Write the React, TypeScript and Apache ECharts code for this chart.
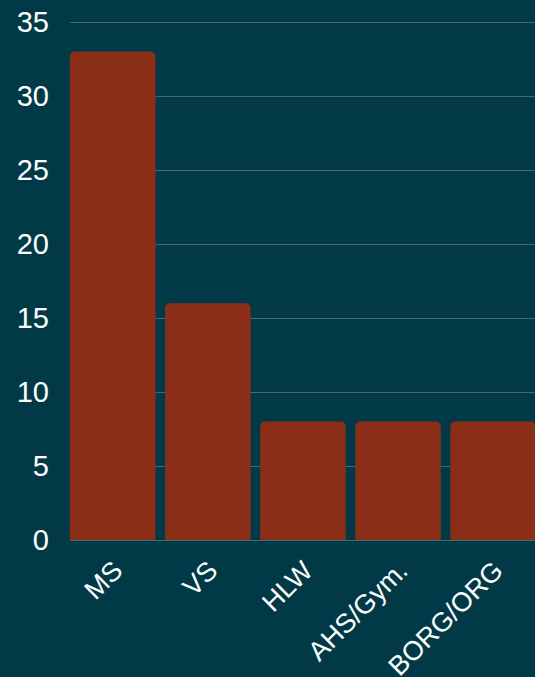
import React, { useEffect, useRef } from "react";
import * as echarts from "echarts";

const categories = ["MS", "VS", "HLW", "AHS/Gym.", "BORG/ORG"];
const values = [33, 16, 8, 8, 8];
const yMin = 0;
const yMax = 35;
const yInterval = 5;

const W = 548;

export default function App() {
  const ref = useRef<HTMLDivElement>(null);
  useEffect(() => {
    if (!ref.current) return;
    const chart = echarts.init(ref.current, null, { renderer: "svg" });
    const font = "'Liberation Sans', Arial, Helvetica, sans-serif";
    chart.setOption({
      animation: false,
      backgroundColor: "#013a46",
      grid: [
        { left: 70, right: W - 535, top: 22, bottom: 137, outerBoundsMode: "none" },
        { left: 65.2, right: W - 540.7, top: 22, bottom: 137, outerBoundsMode: "none" },
        { left: 70.2, right: W - 545.7, top: 22, bottom: 137, outerBoundsMode: "none" },
      ],
      xAxis: [
        { type: "category", gridIndex: 0, data: categories, show: false },
        { type: "category", gridIndex: 1, data: categories, show: false },
        {
          type: "category",
          gridIndex: 2,
          data: categories,
          axisLine: { show: false },
          axisTick: { show: false },
          axisLabel: {
            rotate: 45,
            color: "#ffffff",
            fontSize: 27,
            fontFamily: font,
            margin: 26,
            interval: 0,
          },
        },
      ],
      yAxis: [
        {
          type: "value",
          gridIndex: 0,
          min: yMin,
          max: yMax,
          interval: yInterval,
          axisLine: { show: false },
          axisTick: { show: false },
          axisLabel: {
            color: "#ffffff",
            fontSize: 29,
            fontFamily: font,
            margin: 21,
          },
          splitLine: { lineStyle: { color: "#3f6b74", width: 1 } },
        },
        {
          type: "value",
          gridIndex: 1,
          min: yMin,
          max: yMax,
          interval: yInterval,
          show: false,
          splitLine: { show: false },
        },
        {
          type: "value",
          gridIndex: 2,
          min: yMin,
          max: yMax,
          interval: yInterval,
          show: false,
          splitLine: { show: false },
        },
      ],
      series: [
        {
          type: "bar",
          xAxisIndex: 1,
          yAxisIndex: 1,
          data: values,
          barCategoryGap: "10%",
          itemStyle: { color: "#8a2e17", borderRadius: [5, 5, 0, 0] },
        },
      ],
    });
    return () => chart.dispose();
  }, []);
  return (
    <div style={{ position: "absolute", left: 0, top: 0, width: 535, height: 677, overflow: "hidden" }}>
      <div ref={ref} style={{ width: W, height: 677 }} />
    </div>
  );
}
